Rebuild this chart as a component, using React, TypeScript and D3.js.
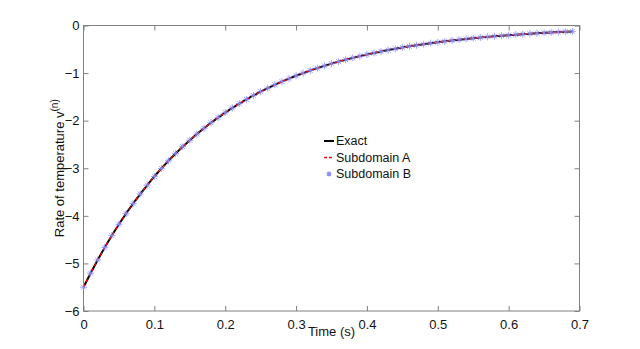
import { useRef, useEffect } from "react";
import * as d3 from "d3";

// sample times (s), one every 0.01
const times = [
	0, 0.01, 0.02, 0.03, 0.04, 0.05, 0.06, 0.07, 0.08, 0.09,
	0.1, 0.11, 0.12, 0.13, 0.14, 0.15, 0.16, 0.17, 0.18, 0.19,
	0.2, 0.21, 0.22, 0.23, 0.24, 0.25, 0.26, 0.27, 0.28, 0.29,
	0.3, 0.31, 0.32, 0.33, 0.34, 0.35, 0.36, 0.37, 0.38, 0.39,
	0.4, 0.41, 0.42, 0.43, 0.44, 0.45, 0.46, 0.47, 0.48, 0.49,
	0.5, 0.51, 0.52, 0.53, 0.54, 0.55, 0.56, 0.57, 0.58, 0.59,
	0.6, 0.61, 0.62, 0.63, 0.64, 0.65, 0.66, 0.67, 0.68, 0.69,
];

// rate of temperature
const rate = [
	-5.5, -5.206, -4.927, -4.663, -4.414, -4.178, -3.954, -3.743, -3.542, -3.353,
	-3.173, -3.004, -2.843, -2.691, -2.547, -2.411, -2.282, -2.16, -2.044, -1.935,
	-1.831, -1.733, -1.64, -1.553, -1.47, -1.391, -1.317, -1.246, -1.179, -1.116,
	-1.056, -1.0, -0.946, -0.896, -0.848, -0.802, -0.759, -0.719, -0.68, -0.644,
	-0.609, -0.577, -0.546, -0.517, -0.489, -0.463, -0.438, -0.415, -0.392, -0.371,
	-0.352, -0.333, -0.315, -0.298, -0.282, -0.267, -0.253, -0.239, -0.226, -0.214,
	-0.203, -0.192, -0.182, -0.172, -0.163, -0.154, -0.146, -0.138, -0.131, -0.124,
];

const xTicks = [0, 0.1, 0.2, 0.3, 0.4, 0.5, 0.6, 0.7];
const yTicks = [0, -1, -2, -3, -4, -5, -6];
const legendLabels = ["Exact", "Subdomain A", "Subdomain B"];

const App = () => {
	const svgRef = useRef<SVGSVGElement>(null);

	useEffect(() => {
		const w = 640;
		const h = 349;
		const m = { left: 83.5, right: 579.5, top: 25.5, bottom: 311 };
		const font = "Liberation Sans, Arial, sans-serif";
		const axisColor = "#808080";
		const starColor = "#8c8cff";

		const svg = d3.select(svgRef.current)
			.attr("width", w)
			.attr("height", h);
		svg.selectAll("*").remove();

		const xScale = d3.scaleLinear().domain([0, 0.7]).range([m.left, m.right]);
		const yScale = d3.scaleLinear().domain([-6, 0]).range([m.bottom, m.top]);

		const data = times.map((t, i) => [t, rate[i]] as [number, number]);

		// axes box
		svg.append("rect")
			.attr("x", m.left)
			.attr("y", m.top)
			.attr("width", m.right - m.left)
			.attr("height", m.bottom - m.top)
			.attr("fill", "white")
			.attr("stroke", axisColor)
			.attr("stroke-width", 1);

		const tickLen = 5;
		const xAxisBottom = d3.axisBottom(xScale).tickValues(xTicks).tickSize(-tickLen).tickSizeOuter(0).tickPadding(9)
			.tickFormat(d => d3.format("")(d as number));
		const gx = svg.append("g").attr("transform", `translate(0, ${m.bottom})`).call(xAxisBottom);
		const xAxisTop = d3.axisTop(xScale).tickValues(xTicks).tickSize(-tickLen).tickSizeOuter(0).tickFormat(() => "");
		const gxt = svg.append("g").attr("transform", `translate(0, ${m.top})`).call(xAxisTop);

		const yAxisLeft = d3.axisLeft(yScale).tickValues(yTicks).tickSize(-tickLen).tickSizeOuter(0).tickPadding(4)
			.tickFormat(d => String(d).replace("-", "\u2212"));
		const gy = svg.append("g").attr("transform", `translate(${m.left}, 0)`).call(yAxisLeft);
		const yAxisRight = d3.axisRight(yScale).tickValues(yTicks).tickSize(-tickLen).tickSizeOuter(0).tickFormat(() => "");
		const gyr = svg.append("g").attr("transform", `translate(${m.right}, 0)`).call(yAxisRight);

		[gx, gxt, gy, gyr].forEach(g => {
			g.select(".domain").remove();
			g.selectAll("line").attr("stroke", axisColor);
			g.selectAll("text")
				.attr("font-family", font)
				.attr("font-size", 13)
				.attr("fill", "#111");
		});

		// lines
		const line = d3.line<[number, number]>()
			.x(d => xScale(d[0]))
			.y(d => yScale(d[1]));

		svg.append("path")
			.datum(data)
			.attr("fill", "none")
			.attr("stroke", "black")
			.attr("stroke-width", 2)
			.attr("d", line);

		svg.append("path")
			.datum(data)
			.attr("fill", "none")
			.attr("stroke", "#ff0000")
			.attr("stroke-width", 1.3)
			.attr("stroke-dasharray", "3,3")
			.attr("d", line);

		// asterisk markers
		const star = (x: number, y: number, r: number) => {
			const d = r * 0.707;
			return `M${x - r},${y}L${x + r},${y}M${x},${y - r}L${x},${y + r}` +
				`M${x - d},${y - d}L${x + d},${y + d}M${x - d},${y + d}L${x + d},${y - d}`;
		};
		svg.append("g")
			.selectAll("path")
			.data(data)
			.join("path")
			.attr("d", d => star(xScale(d[0]), yScale(d[1]), 3.5))
			.attr("stroke", starColor)
			.attr("stroke-opacity", 0.8)
			.attr("stroke-width", 1)
			.attr("fill", "none");

		// legend
		const lg = svg.append("g").attr("font-family", font).attr("font-size", 12.5).attr("fill", "#111");
		const rows = [141, 157.5, 174];
		lg.append("line").attr("x1", 324).attr("x2", 334).attr("y1", rows[0]).attr("y2", rows[0])
			.attr("stroke", "black").attr("stroke-width", 2);
		lg.append("line").attr("x1", 324).attr("x2", 334).attr("y1", rows[1]).attr("y2", rows[1])
			.attr("stroke", "#ff0000").attr("stroke-width", 1.3).attr("stroke-dasharray", "3,2");
		lg.append("path").attr("d", star(329, rows[2], 2.5))
			.attr("stroke", starColor).attr("stroke-width", 1.2).attr("fill", "none");
		lg.selectAll("text")
			.data(legendLabels)
			.join("text")
			.attr("x", 336)
			.attr("y", (d, i) => rows[i])
			.attr("dy", "0.35em")
			.text(d => d);

		// axis labels
		svg.append("text")
			.attr("x", (m.left + m.right) / 2)
			.attr("y", 336)
			.attr("text-anchor", "middle")
			.attr("font-family", font)
			.attr("font-size", 13)
			.attr("fill", "#111")
			.text("Time (s)");

		const yl = svg.append("text")
			.attr("transform", `translate(64, ${(m.top + m.bottom) / 2}) rotate(-90)`)
			.attr("text-anchor", "middle")
			.attr("font-family", font)
			.attr("font-size", 13)
			.attr("fill", "#111");
		yl.append("tspan").text("Rate of temperature v");
		yl.append("tspan").attr("font-size", 10).attr("dy", -6).text("(n)");
	}, []);

	return (
		<div style={{ position: "absolute", left: 0, top: 0 }}>
			<svg ref={svgRef} style={{ display: "block" }}></svg>
		</div>
	);
};

export default App;
